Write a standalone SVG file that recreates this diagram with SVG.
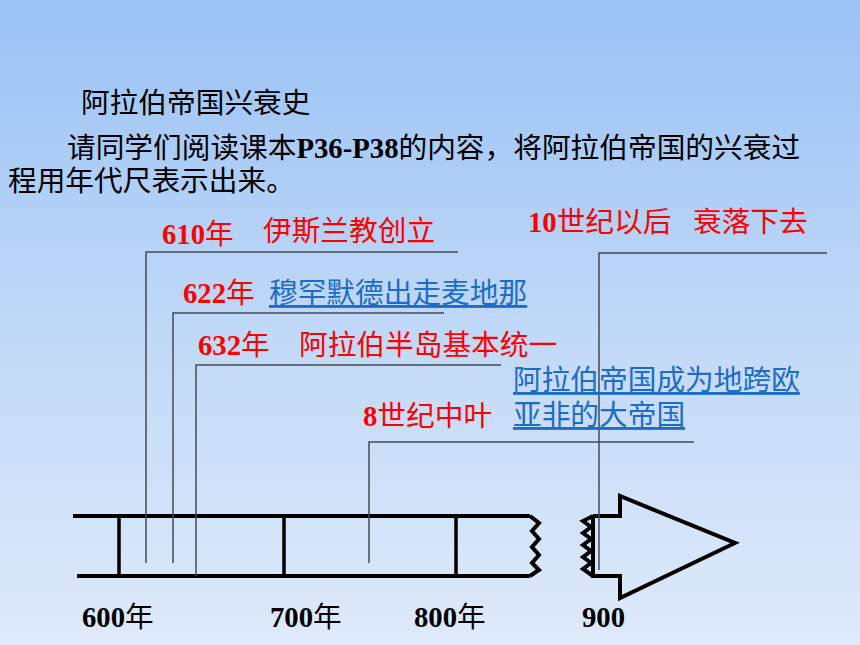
<svg xmlns="http://www.w3.org/2000/svg" width="860" height="645" viewBox="0 0 860 645">
<defs>
<linearGradient id="bg" x1="0" y1="0" x2="0" y2="1">
<stop offset="0" stop-color="#99c2f5"/>
<stop offset="0.5" stop-color="#c0d8f7"/>
<stop offset="1" stop-color="#dfeafa"/>
</linearGradient>
<style>
text{font-family:"Liberation Serif","Noto Sans CJK SC",serif;font-size:28.7px}
.blk{fill:#000}
.red{fill:#ff0000}
.blu{fill:#1c6cc8;text-decoration:underline}
.b{font-weight:bold}
.lead{stroke:#434b57;stroke-width:1.5;fill:none}
.bar{stroke:#000;stroke-width:4;fill:none;stroke-linejoin:miter}
.tick{stroke:#000;stroke-width:3.5;fill:none}
</style>
</defs>
<rect width="860" height="645" fill="url(#bg)"/>
<g id="header">
<text class="blk" x="81" y="113">阿拉伯帝国兴衰史</text>
<text class="blk" x="67" y="158">请同学们阅读课本<tspan class="b">P36-P38</tspan>的内容，将阿拉伯帝国的兴衰过</text>
<text class="blk" x="8" y="191">程用年代尺表示出来。</text>
</g>
<g id="timeline">
<line class="bar" x1="73" y1="516" x2="530" y2="516"/>
<line class="bar" x1="77" y1="576" x2="530" y2="576"/>
<path class="bar" stroke-width="3" d="M530,516 L539,523 L532,531 L539,539 L532,547 L539,555 L532,563 L539,570 L530,576"/>
<line class="tick" x1="119" y1="516" x2="119" y2="576"/>
<line class="tick" x1="284" y1="516" x2="284" y2="576"/>
<line class="tick" x1="456" y1="516" x2="456" y2="576"/>
<path class="bar" stroke-width="3" d="M593,516 L583,521 L591,527 L583,533 L591,539 L583,545 L591,551 L583,557 L591,563 L583,569 L593,576"/>
<line class="bar" stroke-width="5" x1="593" y1="515" x2="593" y2="578"/>
<path class="bar" stroke-width="3.5" d="M593,516 L620,516 L620,496 L735,543 L620,598 L620,576 L593,576"/>
</g>
<g id="connectors">
<polyline class="lead" points="458,252 146,252 146,563"/>
<polyline class="lead" points="444,313 173,313 173,563"/>
<polyline class="lead" stroke="#111" points="501,365 196,365 196,576"/>
<polyline class="lead" points="694,442 369,442 369,563"/>
<polyline class="lead" points="827,253 599,253 599,570"/>
</g>
<g id="e610">
<text class="red" x="162" y="244"><tspan class="b">610</tspan>年</text>
<text class="red" x="263" y="241">伊斯兰教创立</text>
</g>
<g id="e622">
<text class="red" x="183" y="303"><tspan class="b">622</tspan>年</text>
<text class="blu" x="269" y="303">穆罕默德出走麦地那</text>
</g>
<g id="e632">
<text class="red" x="198" y="355"><tspan class="b">632</tspan>年</text>
<text class="red" x="299" y="355">阿拉伯半岛基本统一</text>
</g>
<g id="e8c">
<text class="red" x="363" y="426"><tspan class="b">8</tspan>世纪中叶</text>
<text class="blu" x="513" y="390">阿拉伯帝国成为地跨欧</text>
<text class="blu" x="513" y="425">亚非的大帝国</text>
</g>
<g id="e10c">
<text class="red" x="528" y="232"><tspan class="b">10</tspan>世纪以后</text>
<text class="red" x="693" y="232">衰落下去</text>
</g>
<g id="axis-labels">
<text class="blk" x="82" y="627"><tspan class="b">600</tspan>年</text>
<text class="blk" x="270" y="627"><tspan class="b">700</tspan>年</text>
<text class="blk" x="414" y="627"><tspan class="b">800</tspan>年</text>
<text class="blk b" x="582" y="627">900</text>
</g>
</svg>
